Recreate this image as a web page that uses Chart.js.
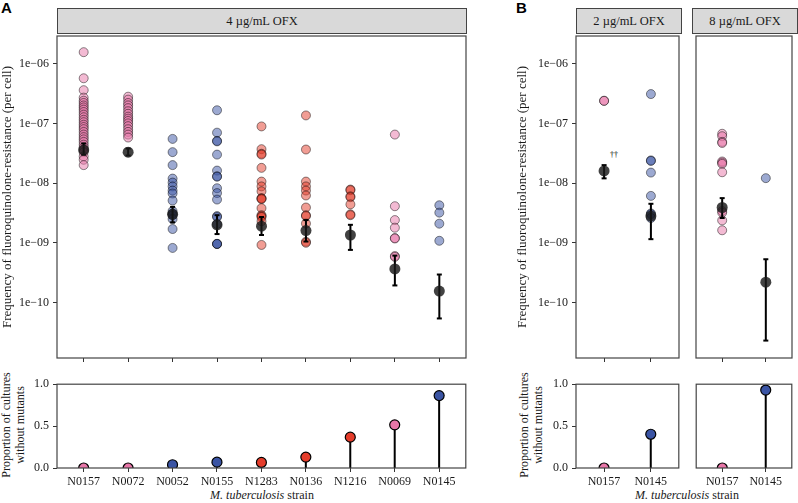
<!DOCTYPE html>
<html>
<head>
<meta charset="utf-8">
<script src="https://cdn.jsdelivr.net/npm/chart.js@4.4.1/dist/chart.umd.min.js"></script>
<style>
  body { margin: 0; background: #fff; width: 798px; height: 503px; position: relative; overflow: hidden; font-family: 'Liberation Serif', serif; }
  canvas { position: absolute; }
  .strip { position: absolute; top: 8px; height: 26px; box-sizing: border-box; background: #d9d9d9; border: 1.2px solid #444; font-size: 12.5px; color: #1a1a1a; text-align: center; line-height: 24px; }
  .xtitle { position: absolute; top: 488px; font-size: 12px; color: #1a1a1a; text-align: center; }
  .ytitle { position: absolute; width: 140px; height: 28px; line-height: 14px; font-size: 12px; color: #1a1a1a; text-align: center; transform: rotate(-90deg); white-space: nowrap; }
  .panel { position: absolute; top: -1px; font-family: 'Liberation Sans', sans-serif; font-weight: bold; font-size: 15px; }
</style>
</head>
<body>
<div class="panel" style="left:1px">A</div>
<div class="panel" style="left:516px">B</div>
<div class="strip" style="left:57px; width:410px">4 µg/mL OFX</div>
<div class="strip" style="left:576px; width:106px">2 µg/mL OFX</div>
<div class="strip" style="left:692px; width:106px">8 µg/mL OFX</div>
<div class="xtitle" style="left:162px; width:200px"><i>M. tuberculosis</i> strain</div>
<div class="xtitle" style="left:587px; width:200px"><i>M. tuberculosis</i> strain</div>
<div class="ytitle" style="left:-57px; top:411px">Proportion of cultures<br>without mutants</div>
<div class="ytitle" style="left:461px; top:411px">Proportion of cultures<br>without mutants</div>
<div style="position:absolute; left:610px; top:150px; font-size:8px; color:#000">††</div>

<canvas id="topA" width="472" height="340" style="left:0; top:30px"></canvas>
<canvas id="botA" width="472" height="125" style="left:0; top:378px"></canvas>
<canvas id="top2" width="170" height="340" style="left:515px; top:30px"></canvas>
<canvas id="bot2" width="170" height="125" style="left:515px; top:378px"></canvas>
<canvas id="top8" width="108" height="340" style="left:690px; top:30px"></canvas>
<canvas id="bot8" width="108" height="125" style="left:690px; top:378px"></canvas>

<script>
// strains and colour groups
const strainsA = ['N0157', 'N0072', 'N0052', 'N0155', 'N1283', 'N0136', 'N1216', 'N0069', 'N0145'];
const groupA = ['pink', 'pink', 'blue', 'blue', 'red', 'red', 'red', 'pink', 'blue'];
const strainsB = ['N0157', 'N0145'];
const groupB = ['pink', 'blue'];

// 4 ug/mL OFX, per-culture mutation frequencies
const n0157_4 = [1.56e-6, 5.7e-7, 3.6e-7, 2.7e-7, 2.4e-7, 2.2e-7, 2.0e-7, 1.85e-7, 1.7e-7, 1.55e-7, 1.4e-7, 1.27e-7, 1.15e-7, 1.05e-7, 9.5e-8, 8.7e-8, 8.0e-8, 7.2e-8, 6.5e-8, 5.9e-8, 5.4e-8, 4.9e-8, 4.4e-8, 4.0e-8, 3.6e-8, 3.3e-8, 2.8e-8, 2.46e-8, 2.0e-8];
const n0072_4 = [2.8e-7, 2.5e-7, 2.2e-7, 2.0e-7, 1.8e-7, 1.6e-7, 1.45e-7, 1.3e-7, 1.2e-7, 1.1e-7, 1.0e-7, 9e-8, 8e-8, 7.2e-8, 6.5e-8, 5.8e-8];
const n0052_4 = [5.5e-8, 3.3e-8, 2.0e-8, 1.19e-8, 1.02e-8, 8.8e-9, 7.5e-9, 6.7e-9, 5.1e-9, 3.4e-9, 3.1e-9, 2.9e-9, 2.5e-9, 1.7e-9, 8.2e-10];
const n0155_4 = [1.66e-7, 7.0e-8, 5.1e-8, 5.0e-8, 3.0e-8, 1.62e-8, 1.3e-8, 1.28e-8, 8.2e-9, 6.8e-9, 5.3e-9, 2.8e-9, 2.7e-9, 2.06e-9, 9.6e-10, 9.5e-10, 9.6e-10];
const n1283_4 = [8.9e-8, 3.7e-8, 3.1e-8, 3.0e-8, 1.8e-8, 1.06e-8, 8.8e-9, 7.3e-9, 5.6e-9, 5.5e-9, 5.4e-9, 3.8e-9, 2.9e-9, 2.8e-9, 2.7e-9, 2.3e-9, 9.2e-10];
const n0136_4 = [1.36e-7, 3.65e-8, 1.06e-8, 8.8e-9, 7.5e-9, 6.2e-9, 3.9e-9, 2.9e-9, 2.8e-9, 2.1e-9, 1.04e-9, 1.0e-9];
const n1216_4 = [7.8e-9, 7.6e-9, 6.0e-9, 5.8e-9, 4.4e-9, 3.0e-9, 2.9e-9];
const n0069_4 = [6.5e-8, 4.1e-9, 2.4e-9, 1.79e-9, 1.2e-9, 1.18e-9, 6.0e-10, 5.8e-10];
const n0145_4 = [4.25e-9, 3.2e-9, 2.09e-9, 1.08e-9];
const meanA = [3.6e-8, 3.3e-8, 3.0e-9, 2.0e-9, 1.9e-9, 1.6e-9, 1.35e-9, 3.65e-10, 1.55e-10];
const loA = [3.0e-8, 2.9e-8, 2.2e-9, 1.4e-9, 1.35e-9, 1.05e-9, 7.6e-10, 1.93e-10, 5.4e-11];
const hiA = [4.6e-8, 3.8e-8, 4.0e-9, 2.9e-9, 2.7e-9, 2.4e-9, 2.0e-9, 6.1e-10, 2.94e-10];
const propA = [0, 0, 0.039, 0.07, 0.066, 0.13, 0.368, 0.515, 0.864];

// 2 ug/mL OFX
const n0157_2 = [2.4e-7, 2.38e-7];
const n0145_2 = [3.1e-7, 2.4e-8, 2.35e-8, 1.5e-8, 6.1e-9, 3.1e-9, 3.0e-9, 2.6e-9];
const mean2 = [1.6e-8, 2.8e-9];
const lo2 = [1.2e-8, 1.15e-9];
const hi2 = [2.0e-8, 4.5e-9];
const prop2 = [0, 0.403];

// 8 ug/mL OFX
const n0157_8 = [6.7e-8, 6.1e-8, 4.9e-8, 4.7e-8, 2.3e-8, 2.2e-8, 2.1e-8, 1.52e-8, 3.4e-9, 3.2e-9, 2.37e-9, 1.62e-9];
const n0145_8 = [1.21e-8];
const mean8 = [3.9e-9, 2.19e-10];
const lo8 = [2.6e-9, 2.3e-11];
const hi8 = [5.6e-9, 5.3e-10];
const prop8 = [0, 0.93];

const logTicks = [1e-10, 1e-9, 1e-8, 1e-7, 1e-6];
const propTicks = [0, 0.5, 1];

const rgb = { pink: '232,118,168', blue: '58,84,164', red: '228,60,42' };
const font = { family: 'Liberation Serif', size: 12 };
const ink = '#1a1a1a';

Chart.defaults.font.family = 'Liberation Serif';
Chart.defaults.color = ink;

const boxPlugin = {
    id: 'box',
    afterDraw(chart) {
        const { ctx, chartArea: a } = chart;
        ctx.save();
        ctx.strokeStyle = '#444';
        ctx.lineWidth = 1.2;
        ctx.strokeRect(a.left, a.top, a.right - a.left, a.bottom - a.top);
        ctx.restore();
    }
};

const fitY = width => s => {
    s.width = width;
    s.paddingTop = 0;
    s.paddingBottom = 0;
};

const xScale = (strains, showLabels, height) => ({
    type: 'linear',
    min: -0.6,
    max: strains.length - 0.4,
    afterBuildTicks: s => { s.ticks = strains.map((_, i) => ({ value: i })); },
    ticks: { display: showLabels, font, color: ink, padding: 3, autoSkip: false, maxRotation: 0, callback: v => strains[v] },
    grid: { drawOnChartArea: false, tickLength: 4, color: '#333' },
    border: { display: false },
    afterFit: s => { s.height = height; s.paddingLeft = 0; s.paddingRight = 0; }
});

const makeTop = (id, strains, groups, points, means, los, his, yWidth, pad) => {
    const datasets = [];
    points.forEach((vals, i) => {
        datasets.push({
            data: vals.map(v => ({ x: i, y: v })),
            backgroundColor: `rgba(${rgb[groups[i]]},0.5)`,
            borderColor: 'rgba(0,0,0,0.45)',
            borderWidth: 1,
            pointRadius: 4.5,
            order: 3
        });
    });
    const bars = [];
    los.forEach((lo, i) => { bars.push({ x: i, y: lo }, { x: i, y: his[i] }, { x: i, y: null }); });
    datasets.push({ type: 'line', data: bars, borderColor: '#000', borderWidth: 2, pointRadius: 0, spanGaps: false, order: 2 });
    datasets.push({
        data: los.flatMap((lo, i) => [{ x: i, y: lo }, { x: i, y: his[i] }]),
        pointStyle: 'line', pointRadius: 2.5, borderColor: '#000', borderWidth: 2, order: 2
    });
    datasets.push({
        data: means.map((m, i) => ({ x: i, y: m })),
        backgroundColor: 'rgba(25,25,25,0.82)', borderWidth: 0, pointRadius: 5.5, order: 1
    });
    return new Chart(document.getElementById(id), {
        type: 'scatter',
        data: { datasets },
        plugins: [boxPlugin],
        options: {
            responsive: false,
            animation: false,
            events: [],
            layout: { padding: pad },
            plugins: { legend: { display: false }, tooltip: { enabled: false } },
            scales: {
                x: xScale(strains, false, 12),
                y: {
                    type: 'logarithmic',
                    display: yWidth > 0,
                    min: Math.pow(10, -10.93),
                    max: Math.pow(10, -5.536),
                    afterBuildTicks: s => { s.ticks = logTicks.map(v => ({ value: v })); },
                    ticks: {
                        font, color: ink, padding: 4, autoSkip: false,
                        callback: v => '1e\u2212' + String(-Math.round(Math.log10(v))).padStart(2, '0')
                    },
                    grid: { drawOnChartArea: false, tickLength: 4, color: '#333' },
                    border: { display: false },
                    title: { display: true, text: 'Frequency of fluoroquinolone-resistance (per cell)', font: { family: 'Liberation Serif', size: 13 }, color: ink, padding: { top: 0, bottom: 0 } },
                    afterFit: fitY(yWidth)
                }
            }
        }
    });
};

const makeBottom = (id, strains, groups, props, yWidth, pad) => {
    const stems = [];
    props.forEach((p, i) => { stems.push({ x: i, y: 0 }, { x: i, y: p }, { x: i, y: null }); });
    return new Chart(document.getElementById(id), {
        type: 'scatter',
        data: {
            datasets: [
                {
                    data: props.map((p, i) => ({ x: i, y: p })),
                    backgroundColor: groups.map(g => `rgb(${rgb[g]})`),
                    borderColor: '#000', borderWidth: 1.2, pointRadius: 5, clip: 0, order: 1
                },
                { type: 'line', data: stems, borderColor: '#000', borderWidth: 2, pointRadius: 0, spanGaps: false, order: 2 }
            ]
        },
        plugins: [boxPlugin],
        options: {
            responsive: false,
            animation: false,
            events: [],
            layout: { padding: pad },
            plugins: { legend: { display: false }, tooltip: { enabled: false } },
            scales: {
                x: xScale(strains, true, 35),
                y: {
                    type: 'linear',
                    display: yWidth > 0,
                    min: 0,
                    max: 1,
                    afterBuildTicks: s => { s.ticks = propTicks.map(v => ({ value: v })); },
                    ticks: { font, color: ink, padding: 4, callback: v => v.toFixed(1) },
                    grid: { drawOnChartArea: false, tickLength: 4, color: '#333' },
                    border: { display: false },
                    afterFit: fitY(yWidth)
                }
            }
        }
    });
};

makeTop('topA', strainsA, groupA, [n0157_4, n0072_4, n0052_4, n0155_4, n1283_4, n0136_4, n1216_4, n0069_4, n0145_4], meanA, loA, hiA, 57, { top: 3, right: 5, left: 0, bottom: 0 });
makeBottom('botA', strainsA, groupA, propA, 57, { top: 4, right: 5, left: 0, bottom: 0 });
makeTop('top2', strainsB, groupB, [n0157_2, n0145_2], mean2, lo2, hi2, 61, { top: 3, right: 3, left: 0, bottom: 0 });
makeBottom('bot2', strainsB, groupB, prop2, 61, { top: 4, right: 3, left: 0, bottom: 0 });
makeTop('top8', strainsB, groupB, [n0157_8, n0145_8], mean8, lo8, hi8, 0, { top: 3, right: 1, left: 2, bottom: 0 });
makeBottom('bot8', strainsB, groupB, prop8, 0, { top: 4, right: 1, left: 2, bottom: 0 });
</script>
</body>
</html>
